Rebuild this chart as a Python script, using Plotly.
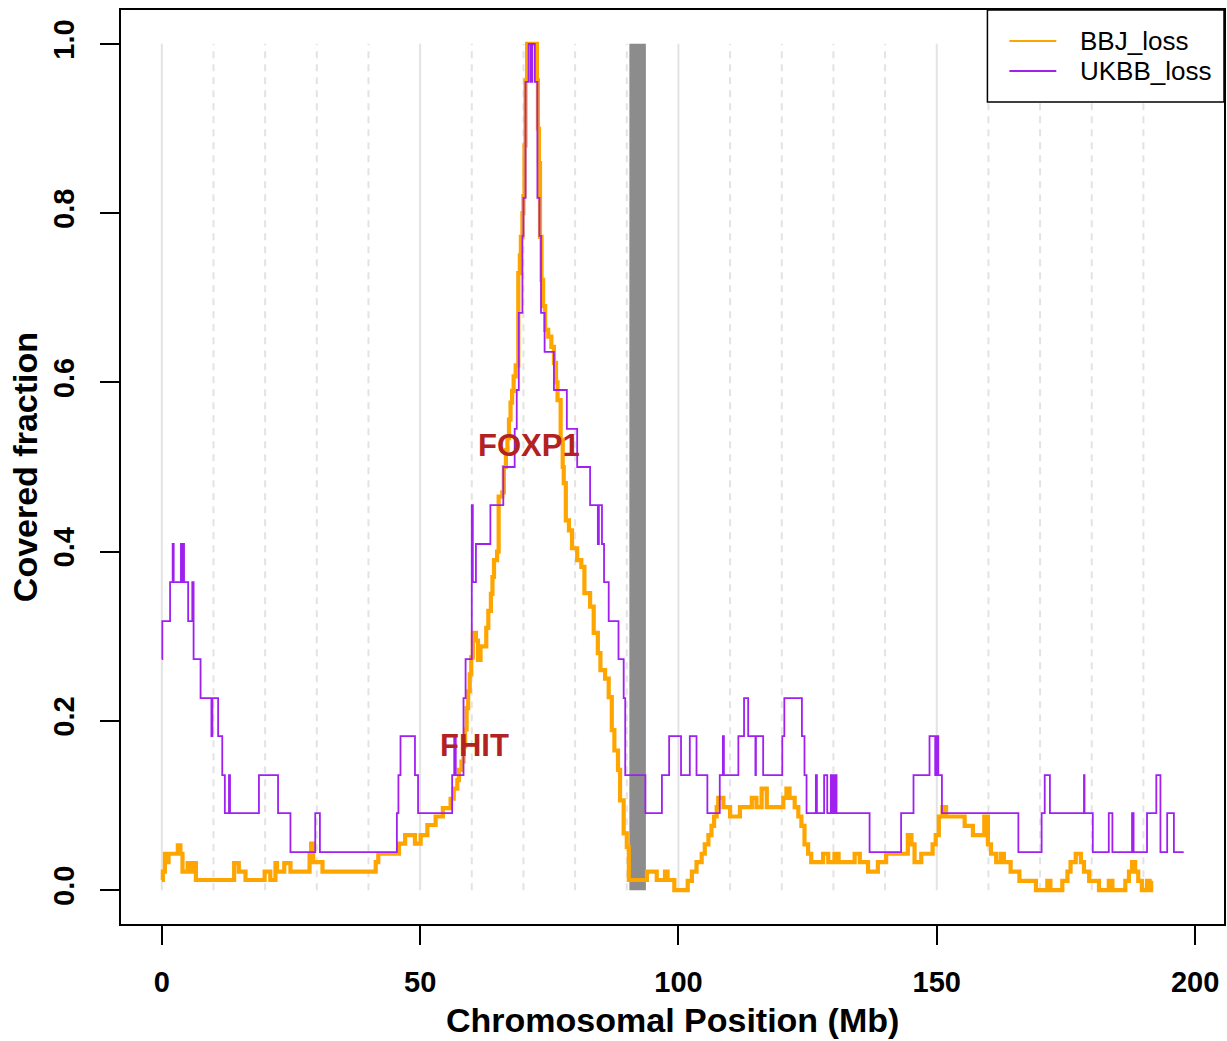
import plotly.graph_objects as go

# ---------------- data ----------------
# UKBB_loss covered fraction (step function: value holds from x until next x)
ukbb_x = [0.0, 0.1, 1.6, 2.1, 2.3, 3.7, 3.8, 3.9, 4.0, 4.2, 4.3, 5.1, 5.9, 6.15, 7.5, 9.6, 9.8,
          10.9, 11.7, 12.2, 13.0, 13.2, 18.8, 22.5, 24.9, 29.7, 30.6, 45.5, 45.8, 46.2, 49.0,
          49.6, 56.2, 56.6, 56.9, 58.4, 58.8, 60.0, 60.2, 60.8, 63.6, 66.1, 68.3, 68.7, 69.1,
          69.8, 70.0, 70.4, 71.0, 71.4, 71.7, 72.2, 72.7, 73.1, 73.4, 74.1, 75.9, 78.4, 80.4,
          82.9, 84.4, 84.6, 85.2, 85.6, 86.5, 88.4, 89.4, 89.7, 93.6, 96.8, 98.2, 100.5, 102.2,
          103.5, 105.6, 108.0, 108.6, 108.8, 111.6, 112.7, 113.5, 114.9, 115.0, 116.4, 120.1,
          120.5, 123.9, 124.4, 124.8, 126.6, 126.8, 128.2, 128.8, 129.5, 129.7, 129.9, 130.1,
          130.3, 130.6, 137.0, 143.1, 145.5, 148.6, 149.7, 150.0, 150.3, 151.0, 165.8, 170.3,
          170.9, 171.9, 178.5, 178.6, 180.2, 183.3, 184.0, 187.8, 188.1, 190.7, 192.5, 193.3,
          194.6, 195.9, 197.8]
ukbb_y = [0.273, 0.318, 0.364, 0.409, 0.364, 0.409, 0.364, 0.409, 0.364, 0.409, 0.364, 0.318,
          0.364, 0.273, 0.227, 0.182, 0.227, 0.182, 0.136, 0.091, 0.136, 0.091, 0.136, 0.091,
          0.045, 0.091, 0.045, 0.091, 0.136, 0.182, 0.136, 0.091, 0.136, 0.182, 0.136, 0.227,
          0.273, 0.455, 0.364, 0.409, 0.455, 0.500, 0.545, 0.591, 0.682, 0.773, 0.818, 0.955,
          1.000, 0.955, 1.000, 0.955, 0.818, 0.773, 0.682, 0.636, 0.591, 0.545, 0.500, 0.455,
          0.409, 0.455, 0.409, 0.364, 0.318, 0.273, 0.227, 0.136, 0.091, 0.136, 0.182, 0.136,
          0.182, 0.136, 0.091, 0.136, 0.182, 0.136, 0.182, 0.227, 0.182, 0.136, 0.182, 0.136,
          0.182, 0.227, 0.182, 0.136, 0.091, 0.136, 0.091, 0.136, 0.091, 0.136, 0.091, 0.136,
          0.091, 0.136, 0.091, 0.045, 0.091, 0.136, 0.182, 0.136, 0.182, 0.136, 0.091, 0.045,
          0.091, 0.136, 0.091, 0.136, 0.091, 0.045, 0.091, 0.045, 0.091, 0.045, 0.091, 0.136,
          0.045, 0.091, 0.045, 0.045]

# BBJ_loss covered fraction
bbj_x = [0.0, 0.2, 0.6, 1.0, 1.3, 3.1, 3.6, 4.0, 5.0, 5.6, 5.9, 6.6, 14.0, 14.9, 16.2, 19.9,
         21.0, 22.0, 22.3, 23.7, 24.9, 28.6, 28.9, 29.3, 31.1, 41.4, 41.9, 45.9, 47.1, 49.0,
         50.1, 51.4, 53.0, 54.4, 55.9, 56.5, 57.2, 57.5, 58.0, 58.4, 58.7, 59.0, 59.3, 59.6,
         59.9, 60.2, 60.8, 61.2, 61.7, 62.8, 63.2, 63.7, 64.0, 64.3, 64.9, 65.2, 65.9, 66.2,
         66.6, 66.9, 67.2, 67.5, 67.8, 68.1, 68.5, 69.0, 69.3, 69.5, 69.8, 70.0, 70.2, 70.4,
         70.7, 72.6, 72.8, 73.0, 73.2, 73.5, 73.8, 74.2, 74.8, 75.4, 75.9, 76.3, 76.6, 77.2,
         77.6, 77.8, 78.2, 78.8, 79.4, 80.4, 81.2, 81.8, 82.9, 83.6, 84.4, 84.9, 85.8, 86.5,
         87.1, 87.6, 88.3, 88.7, 89.4, 90.0, 90.4, 93.9, 95.8, 97.4, 97.9, 99.2, 101.8, 102.6,
         103.5, 104.5, 105.1, 105.8, 106.4, 106.9, 107.4, 107.7, 108.7, 110.0, 111.9, 114.2,
         115.1, 116.1, 117.1, 120.3, 120.9, 121.5, 122.5, 123.2, 123.8, 124.4, 125.1, 125.7,
         128.0, 129.0, 130.2, 131.0, 134.1, 135.1, 136.7, 138.6, 140.2, 144.4, 145.1, 145.7,
         147.0, 149.2, 149.8, 150.4, 151.1, 151.8, 155.4, 157.0, 159.2, 159.9, 160.5, 161.5,
         162.4, 163.0, 164.3, 166.0, 169.2, 171.4, 172.0, 174.3, 175.3, 175.9, 176.9, 177.9,
         178.5, 179.5, 181.4, 183.3, 184.0, 186.5, 187.2, 187.8, 188.4, 189.0, 189.7, 190.7,
         191.2, 191.5, 191.6]
bbj_y = [0.012, 0.022, 0.043, 0.033, 0.043, 0.053, 0.043, 0.022, 0.032, 0.022, 0.032, 0.012,
         0.032, 0.022, 0.012, 0.022, 0.012, 0.032, 0.022, 0.032, 0.022, 0.043, 0.055, 0.033,
         0.022, 0.033, 0.043, 0.055, 0.065, 0.055, 0.065, 0.077, 0.087, 0.097, 0.108, 0.120,
         0.130, 0.142, 0.152, 0.170, 0.190, 0.215, 0.235, 0.255, 0.275, 0.304, 0.295, 0.272,
         0.288, 0.310, 0.330, 0.350, 0.370, 0.390, 0.400, 0.465, 0.470, 0.500, 0.520, 0.534,
         0.556, 0.576, 0.590, 0.607, 0.620, 0.729, 0.750, 0.772, 0.800, 0.820, 0.880, 0.957,
         1.000, 0.957, 0.900, 0.859, 0.772, 0.721, 0.690, 0.662, 0.654, 0.642, 0.623, 0.600,
         0.579, 0.532, 0.500, 0.481, 0.437, 0.425, 0.404, 0.390, 0.382, 0.351, 0.335, 0.304,
         0.280, 0.260, 0.250, 0.228, 0.189, 0.165, 0.142, 0.106, 0.067, 0.051, 0.012, 0.022,
         0.012, 0.022, 0.012, 0.000, 0.011, 0.022, 0.033, 0.043, 0.054, 0.065, 0.076, 0.087,
         0.098, 0.109, 0.098, 0.087, 0.098, 0.109, 0.098, 0.120, 0.098, 0.109, 0.120, 0.109,
         0.098, 0.087, 0.076, 0.054, 0.043, 0.033, 0.043, 0.033, 0.043, 0.033, 0.043, 0.033,
         0.022, 0.033, 0.043, 0.065, 0.054, 0.033, 0.043, 0.054, 0.065, 0.087, 0.098, 0.087,
         0.076, 0.065, 0.087, 0.054, 0.043, 0.033, 0.043, 0.033, 0.022, 0.011, 0.000, 0.011,
         0.000, 0.011, 0.022, 0.033, 0.043, 0.033, 0.022, 0.011, 0.000, 0.011, 0.000, 0.011,
         0.022, 0.033, 0.022, 0.011, 0.000, 0.011, 0.000, 0.011, 0.011]

# gene labels
gene_names = ["FOXP1", "FHIT"]
gene_x = [71.0, 60.6]
gene_y = [0.526, 0.171]

# centromere
cen_start, cen_end = 90.5, 93.7

# series names / colours for the legend
series_names = ["BBJ_loss", "UKBB_loss"]
series_colors = ["#FFA500", "#A020F0"]

# grid / ticks
grid_solid = [0, 50, 100, 150]
grid_dashed = [10, 20, 30, 40, 60, 70, 80, 90, 110, 120, 130, 140, 160, 170, 180, 190]
x_ticks = [0, 50, 100, 150, 200]
y_ticks = [0.0, 0.2, 0.4, 0.6, 0.8, 1.0]
y_ticklabels = ["0.0", "0.2", "0.4", "0.6", "0.8", "1.0"]

FONT = "Liberation Sans, Arial, sans-serif"

# plot-area geometry in pixels (used to place paper-referenced items)
W, H = 1227, 1041
ML, MR, MT, MB = 121, 1, 10, 117
PW, PH = W - ML - MR, H - MT - MB


def px_x(p):
    return (p - ML) / PW


def px_y(p):
    return (H - MB - p) / PH


fig = go.Figure()

shapes = []
for gx in grid_solid:
    shapes.append(dict(type="line", xref="x", yref="y", x0=gx, x1=gx, y0=0, y1=1,
                       line=dict(color="#E3E3E3", width=2), layer="below"))
for gx in grid_dashed:
    shapes.append(dict(type="line", xref="x", yref="y", x0=gx, x1=gx, y0=0, y1=1,
                       line=dict(color="#E3E3E3", width=2, dash="7px,6px"), layer="below"))
shapes.append(dict(type="rect", xref="x", yref="y", x0=cen_start, x1=cen_end, y0=0, y1=1,
                   fillcolor="#8C8C8C", line=dict(width=0), layer="below"))

fig.add_trace(go.Scatter(x=bbj_x, y=bbj_y, mode="lines", line_shape="hv",
                         line=dict(color=series_colors[0], width=4.2), showlegend=False,
                         name=series_names[0]))
fig.add_trace(go.Scatter(x=ukbb_x, y=ukbb_y, mode="lines", line_shape="hv",
                         line=dict(color=series_colors[1], width=1.8), showlegend=False,
                         name=series_names[1]))

annotations = []
for name, gx, gy in zip(gene_names, gene_x, gene_y):
    annotations.append(dict(x=gx, y=gy, xref="x", yref="y", text=name, showarrow=False,
                            xanchor="center", yanchor="middle",
                            font=dict(family=FONT, size=31, color="#B22222", weight="bold")))
annotations.append(dict(x=0.5, y=px_y(1020), xref="paper", yref="paper",
                        text="Chromosomal Position (Mb)", showarrow=False,
                        xanchor="center", yanchor="middle",
                        font=dict(family=FONT, size=34, color="black", weight="bold")))
annotations.append(dict(x=px_x(25), y=0.5, xref="paper", yref="paper",
                        text="Covered fraction", showarrow=False, textangle=-90,
                        xanchor="center", yanchor="middle",
                        font=dict(family=FONT, size=34, color="black", weight="bold")))

# legend box (R-style) in the top-right corner
shapes.append(dict(type="rect", xref="paper", yref="paper", x0=px_x(989), x1=1.0,
                   y0=px_y(102), y1=1.0, fillcolor="white",
                   line=dict(color="black", width=1.5), layer="above"))
for i, (nm, col) in enumerate(zip(series_names, series_colors)):
    yy = px_y(41 + 30 * i)
    shapes.append(dict(type="line", xref="paper", yref="paper", x0=px_x(1011), x1=px_x(1058),
                       y0=yy, y1=yy, line=dict(color=col, width=2), layer="above"))
    annotations.append(dict(x=px_x(1080), y=yy, xref="paper", yref="paper", text=nm,
                            showarrow=False, xanchor="left", yanchor="middle",
                            font=dict(family=FONT, size=26, color="black")))

fig.update_layout(
    width=W, height=H,
    margin=dict(l=ML, r=MR, t=MT, b=MB, pad=0),
    plot_bgcolor="white", paper_bgcolor="white",
    shapes=shapes, annotations=annotations, showlegend=False,
    xaxis=dict(range=[-7.9, 205.6], tickvals=x_ticks, ticks="outside", ticklen=19,
               tickwidth=2, tickcolor="black", showline=True, linewidth=2, linecolor="black",
               mirror=True, showgrid=False, zeroline=False, ticklabelstandoff=12,
               tickfont=dict(family=FONT, size=29, color="black", weight="bold")),
    yaxis=dict(range=[-0.04, 1.04], tickvals=y_ticks, ticktext=y_ticklabels, ticks="outside",
               ticklen=19, tickwidth=2, tickcolor="black", showline=True, linewidth=2,
               linecolor="black", mirror=True, showgrid=False, zeroline=False, tickangle=-90,
               ticklabelstandoff=14,
               tickfont=dict(family=FONT, size=29, color="black", weight="bold")),
)

fig.write_html("out.html")
